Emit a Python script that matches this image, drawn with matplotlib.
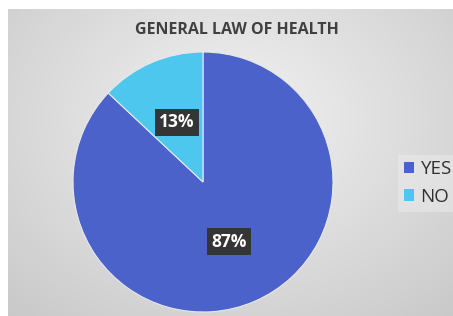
import numpy as np
import matplotlib
matplotlib.use("Agg")
import matplotlib.pyplot as plt

# Data
categories = ["YES", "NO"]
values = [87, 13]
colors = ["#4a62c9", "#4ec7ee"]
title = "GENERAL LAW OF HEALTH"

W, H = 453, 316
fig = plt.figure(figsize=(W / 100, H / 100), dpi=100)
fig.patch.set_facecolor("white")

# background gradient panel
bg = fig.add_axes([8 / W, 0, 1 - 8 / W, 1 - 9 / H])
yy, xx = np.mgrid[0:H - 9, 0:W - 8]
cx, cy = 225, 110
d = np.sqrt(((xx - cx) / 330.0) ** 2 + ((yy - cy) / 260.0) ** 2)
g = 0.95 - 0.16 * np.clip(d, 0, 1.2)
img = np.dstack([g, g, g])
bg.imshow(img, aspect="auto", interpolation="bilinear")
bg.axis("off")

# legend background box
leg_bg = fig.add_axes([398 / W, 1 - 212 / H, 1 - 398 / W, 57 / H])
leg_bg.set_facecolor("#ececec")
leg_bg.set_xticks([]); leg_bg.set_yticks([])
for s in leg_bg.spines.values():
    s.set_visible(False)
leg_bg.patch.set_alpha(0.5)

# pie
cxp, cyp, r = 203, 182, 130
ax = fig.add_axes([(cxp - r) / W, (H - cyp - r) / H, 2 * r / W, 2 * r / H])
ax.set_facecolor("none")
wedges, texts, autotexts = ax.pie(
    values, colors=colors, startangle=90, counterclock=False,
    autopct="%1.0f%%", pctdistance=0.5, radius=1.0,
    wedgeprops=dict(linewidth=0.8, edgecolor="#e8e8e8"),
)
for t in autotexts:
    t.set_color("white")
    t.set_fontsize(12.5)
    t.set_fontweight("bold")
    t.set_fontfamily("Open Sans")
    t.set_bbox(dict(boxstyle="square,pad=0.25", facecolor="#353535", edgecolor="none"))
ax.set_xlim(-1.0, 1.0)
ax.set_ylim(-1.0, 1.0)
ax.set_aspect("equal")
ax.axis("off")

fig.text(237 / W, 1 - 30 / H, title, ha="center", va="center",
         fontsize=11.5, fontweight="bold", color="#404040", family="Open Sans")

# legend
handles = [plt.Rectangle((0, 0), 1, 1, facecolor=c, edgecolor="none") for c in colors]
leg = fig.legend(handles, categories, loc="center left",
                 bbox_to_anchor=(400 / W, 1 - 183 / H), frameon=False,
                 prop=dict(family="Open Sans", size=13.5), handlelength=0.55,
                 handleheight=0.55, handletextpad=0.35, labelspacing=0.5,
                 borderpad=0.2, borderaxespad=0)
for t in leg.get_texts():
    t.set_color("#303030")

fig.savefig("out.png", dpi=100)
